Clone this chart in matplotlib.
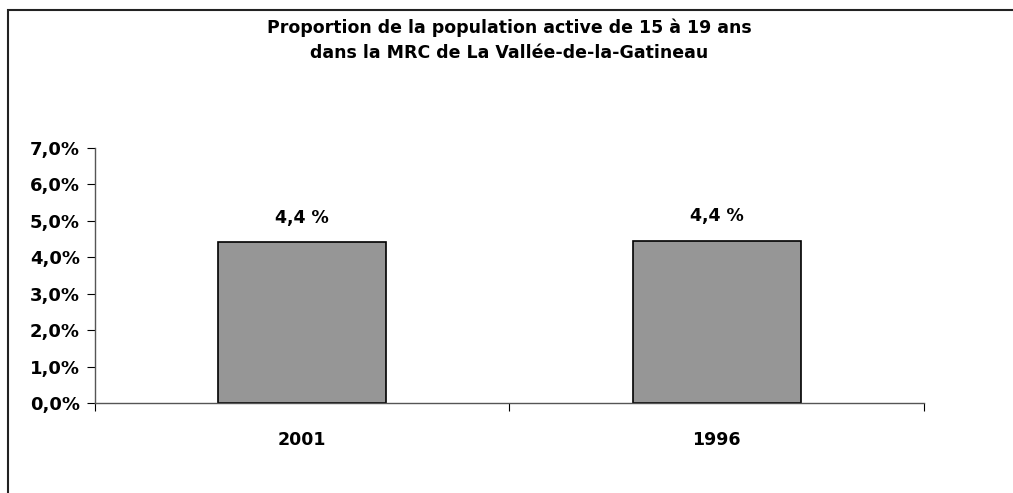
import matplotlib.pyplot as plt
from matplotlib.patches import Rectangle
from matplotlib.ticker import FuncFormatter

annees = ["2001", "1996"]
proportions = [4.42, 4.46]
etiquettes = ["4,4 %", "4,4 %"]
yticks = [0, 1, 2, 3, 4, 5, 6, 7]

plt.rcParams['font.family'] = ['DejaVu Sans']
plt.rcParams['font.weight'] = 'bold'

fig = plt.figure(figsize=(10.13, 4.93), dpi=100)
ax = fig.add_axes([0.0938, 0.1826, 0.8182, 0.5172])

x = list(range(len(annees)))
ax.bar(x, proportions, width=0.405, color="#969696", edgecolor="black", linewidth=1.2)
for xi, v, lab in zip(x, proportions, etiquettes):
    ax.annotate(lab, (xi, v), xytext=(0, 11), textcoords="offset points",
                ha="center", va="bottom", fontsize=12.5, fontweight="bold")

ax.set_xlim(-0.5, 1.5)
ax.set_ylim(0, 7)
ax.set_yticks(yticks)
ax.yaxis.set_major_formatter(FuncFormatter(lambda v, p: f"{v:.1f}%".replace(".", ",")))
ax.set_xticks([-0.5, 0.5, 1.5])
ax.set_xticklabels([])
ax.set_xticks(x, minor=True)
ax.set_xticklabels(annees, minor=True)
ax.tick_params(axis="x", which="minor", length=0, pad=20, labelsize=12.5)
ax.tick_params(axis="x", which="major", length=6, direction="out")
ax.tick_params(axis="y", length=6, direction="out", labelsize=13, pad=5)
for lab in ax.get_yticklabels() + ax.get_xticklabels(minor=True):
    lab.set_fontweight("bold")
for s in ["top", "right"]:
    ax.spines[s].set_visible(False)
for s in ["left", "bottom"]:
    ax.spines[s].set_color("#555555")
    ax.spines[s].set_linewidth(1)

fig.text(0.503, 0.918, "Proportion de la population active de 15 à 19 ans\ndans la MRC de La Vallée-de-la-Gatineau",
         ha="center", va="center", fontsize=12.5, fontweight="bold", linespacing=1.5)

# cadre du graphique
fig.patches.append(Rectangle((8 / 1013, -0.1), 1.2, 0.1 + 1 - 10 / 493, transform=fig.transFigure,
                             fill=False, edgecolor="#222222", linewidth=1.5))

fig.savefig("out.png", dpi=100)
